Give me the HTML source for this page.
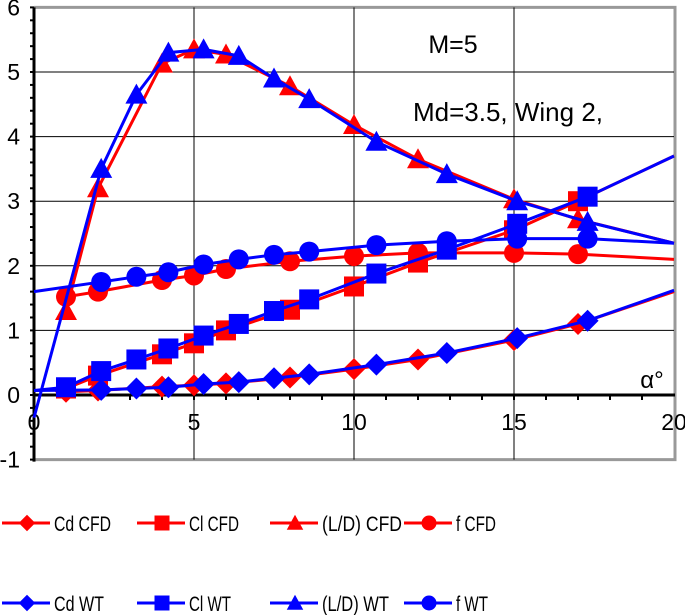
<!DOCTYPE html>
<html><head><meta charset="utf-8"><style>
body{margin:0;background:#fff;}
svg{display:block;font-family:"Liberation Sans",Arial,sans-serif;}
</style></head><body>
<svg id="chart" width="685" height="615" xmlns="http://www.w3.org/2000/svg">
<g id="grid"></g>
<g id="axes"></g>
<g id="series"></g>
<text x="453" y="53" font-size="25" text-anchor="middle">M=5</text>
<text x="508" y="121" font-size="26" text-anchor="middle">Md=3.5, Wing 2,</text>
<text x="652" y="388" font-size="24" text-anchor="middle">α°</text>
<g id="legend"></g>
</svg>
<script>
// data
const cfdX = [1,2,4,5,6,8,10,12,15,17];
const wtX = [2.1,3.2,4.2,5.3,6.4,7.5,8.6,10.7,12.9,15.1,17.3];
const wtClX = [1,2.1,3.2,4.2,5.3,6.4,7.5,8.6,10.7,12.9,15.1,17.3];
const cdCFD = [0.05,0.07,0.13,0.15,0.18,0.27,0.4,0.55,0.85,1.1];
const clCFD = [0.1,0.3,0.63,0.8,1.0,1.32,1.68,2.05,2.55,3.0];
const ldCFD = [1.3,3.2,5.13,5.35,5.27,4.78,4.18,3.65,3.03,2.72];
const fCFD = [1.52,1.6,1.78,1.85,1.95,2.07,2.15,2.2,2.2,2.18];
const cdWT = [0.08,0.1,0.12,0.17,0.2,0.26,0.32,0.47,0.65,0.88,1.15];
const clWT = [0.12,0.37,0.55,0.72,0.92,1.1,1.3,1.48,1.88,2.25,2.65,3.07];
const ldWT = [3.5,4.65,5.3,5.35,5.25,4.9,4.58,3.92,3.42,3.0,2.68];
const fWT = [1.75,1.83,1.9,2.02,2.1,2.17,2.22,2.32,2.38,2.42,2.42];
// trend-line end values at alpha=0 (WT) and alpha=20
const cdCFDEnd = 1.6, clCFDEnd = 3.7, ldCFDEnd = 2.35, fCFDEnd = 2.1;
const cdWTStart = 0.07, clWTStart = 0.07, ldWTStart = -0.35, fWTStart = 1.6;
const cdWTEnd = 1.62, clWTEnd = 3.7, ldWTEnd = 2.35, fWTEnd = 2.35;
const xTicks = [0,5,10,15,20];
const yTicks = [-1,0,1,2,3,4,5,6];

const NS="http://www.w3.org/2000/svg";
const X0=34,X1=674,Y0=395,YU=64.6;
const sx=v=>X0+(X1-X0)*v/20;
const sy=v=>Y0-v*YU;
function mk(tag,attrs,parent){const e=document.createElementNS(NS,tag);for(const k in attrs)e.setAttribute(k,attrs[k]);parent.appendChild(e);return e;}
const grid=document.getElementById('grid'),axes=document.getElementById('axes'),series=document.getElementById('series'),legend=document.getElementById('legend');

let b=mk('polyline',{points:`${X0},${sy(6)} ${X1+1},${sy(6)} ${X1+1},${sy(-1)} ${X0},${sy(-1)}`,fill:'none',stroke:'#999',"stroke-width":3},grid);


yTicks.forEach(t=>{if(t>0&&t<6){const l=mk('line',{x1:X0,x2:X1,y1:sy(t),y2:sy(t),stroke:'#000',"stroke-width":1},grid);

}});
xTicks.forEach(t=>{if(t>0&&t<20){const l=mk('line',{x1:sx(t),x2:sx(t),y1:sy(6),y2:sy(-1),stroke:'#000',"stroke-width":1},grid);

}});
let ya=mk('line',{x1:X0,x2:X0,y1:sy(6),y2:sy(-1)+2,stroke:'#000',"stroke-width":3},axes);


let xa=mk('line',{x1:X0,x2:X1+1,y1:Y0,y2:Y0,stroke:'#000',"stroke-width":3},axes);


for(let v=-1;v<=6.001;v+=0.2){const l=mk('line',{x1:X0-4,x2:X0,y1:sy(v),y2:sy(v),stroke:'#000',"stroke-width":2},axes);

}
for(let v=1;v<20;v++){const l=mk('line',{x1:sx(v),x2:sx(v),y1:Y0,y2:Y0+5,stroke:'#000',"stroke-width":2},axes);

}
yTicks.forEach(t=>{const tx=mk('text',{x:20,y:sy(t)+8,"font-size":23,"text-anchor":"end"},axes);tx.textContent=t;

});
xTicks.forEach(t=>{const tx=mk('text',{x:sx(t),y:Y0+35,"font-size":23,"text-anchor":"middle"},axes);tx.textContent=t;

});

function marker(type,x,y,col,g,s){
  s=s||1;let e;
  if(type==='d')e=mk('polygon',{points:`${x},${y-11*s} ${x+11*s},${y} ${x},${y+11*s} ${x-11*s},${y}`,fill:col},g);
  else if(type==='s')e=mk('rect',{x:x-10*s,y:y-10*s,width:20*s,height:20*s,fill:col},g);
  else if(type==='t')e=mk('polygon',{points:`${x},${y-11*s} ${x+11*s},${y+9*s} ${x-11*s},${y+9*s}`,fill:col},g);
  else e=mk('circle',{cx:x,cy:y,r:10*s,fill:col},g);
  return e;
}
function drawSeries(name,xs,ys,pre,post,col,type){
  const g=mk('g',{},series);
  
  
  const pts=[];if(pre!==null)pts.push([0,pre]);xs.forEach((x,i)=>pts.push([x,ys[i]]));pts.push([20,post]);
  const p=mk('polyline',{points:pts.map(p=>sx(p[0])+','+sy(p[1])).join(' '),fill:'none',stroke:col,"stroke-width":3,"stroke-linejoin":"round"},g);
  
  
  xs.forEach((x,i)=>{const m=marker(type,sx(x),sy(ys[i]),col,g);
    
    });
}
const R='#ff0000',B='#0000ff';
drawSeries('cd-cfd',cfdX,cdCFD,null,cdCFDEnd,R,'d');
drawSeries('cl-cfd',cfdX,clCFD,null,clCFDEnd,R,'s');
drawSeries('ld-cfd',cfdX,ldCFD,null,ldCFDEnd,R,'t');
drawSeries('f-cfd',cfdX,fCFD,null,fCFDEnd,R,'c');
drawSeries('cd-wt',wtX,cdWT,cdWTStart,cdWTEnd,B,'d');
drawSeries('cl-wt',wtClX,clWT,clWTStart,clWTEnd,B,'s');
drawSeries('ld-wt',wtX,ldWT,ldWTStart,ldWTEnd,B,'t');
drawSeries('f-wt',wtX,fWT,fWTStart,fWTEnd,B,'c');

const legNames=[['Cd CFD','Cl CFD','(L/D) CFD','f CFD'],['Cd WT','Cl WT','(L/D) WT','f WT']];
const legW=[57,50,80,40,50,42,67,32];
const types=['d','s','t','c'];const cols=[0,135,268,402];const rows=[523,603];
legNames.forEach((row,ri)=>row.forEach((n,ci)=>{
  const g=mk('g',{},legend);
  
  
  const x=cols[ci],y=rows[ri],c=ri?B:R;
  mk('line',{x1:x+2,x2:x+50,y1:y,y2:y,stroke:c,"stroke-width":3},g);
  marker(types[ci],x+27,y,c,g,0.75);
  const t=mk('text',{x:x+54,y:y+8,"font-size":21,textLength:legW[ri*4+ci],lengthAdjust:"spacingAndGlyphs"},g);t.textContent=n;
}));
</script>
</body></html>
